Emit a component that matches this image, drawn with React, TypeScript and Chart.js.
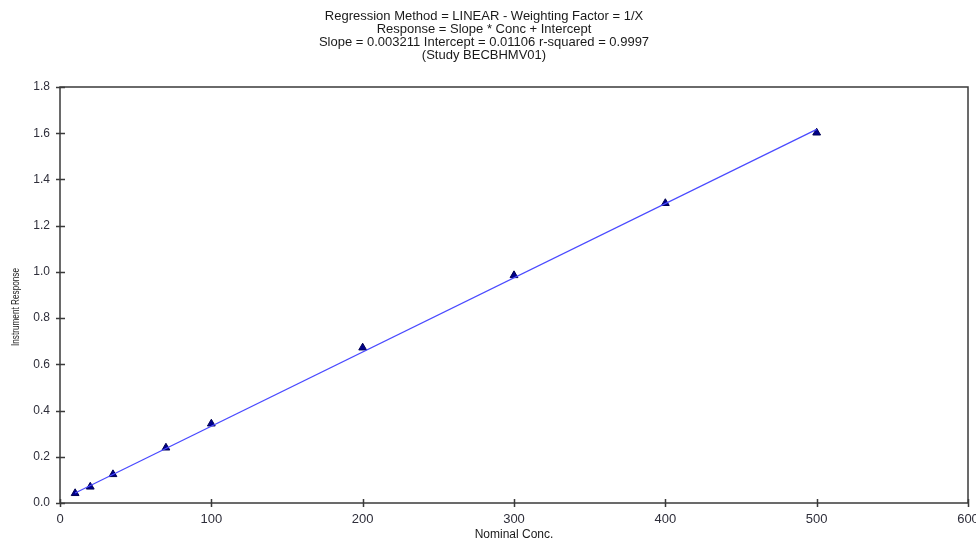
import React, { useEffect, useRef } from "react";
import { Chart, registerables } from "chart.js";

Chart.register(...registerables);

const titleLines = [
  "Regression Method = LINEAR - Weighting Factor = 1/X",
  "Response = Slope * Conc + Intercept",
  "Slope = 0.003211 Intercept = 0.01106 r-squared = 0.9997",
  "(Study BECBHMV01)",
];
const concX = [10, 20, 35, 70, 100, 200, 300, 400, 500];
const responseY = [0.042, 0.07, 0.124, 0.239, 0.343, 0.672, 0.985, 1.297, 1.602];
const fitX = [10, 500];
const fitY = [0.0432, 1.6166];
const xAxisTitle = "Nominal Conc.";
const yAxisTitle = "Instrument Response";

const FONT = "'Liberation Sans', Arial, sans-serif";
const AXIS_COLOR = "#3a3a3a";
const LABEL_COLOR = "#2e2e3a";

const framePlugin = {
  id: "frameTicks",
  afterDraw(chart: any) {
    const { ctx, chartArea, scales } = chart;
    ctx.save();
    ctx.strokeStyle = AXIS_COLOR;
    ctx.lineWidth = 1.5;
    ctx.strokeRect(chartArea.left, chartArea.top, chartArea.right - chartArea.left, chartArea.bottom - chartArea.top);
    ctx.beginPath();
    for (const t of scales.x.ticks) {
      const px = Math.round(scales.x.getPixelForValue(t.value)) + 0.5;
      ctx.moveTo(px, chartArea.bottom - 4);
      ctx.lineTo(px, chartArea.bottom + 4);
    }
    for (const t of scales.y.ticks) {
      const py = Math.round(scales.y.getPixelForValue(t.value)) + 0.5;
      ctx.moveTo(chartArea.left - 4, py);
      ctx.lineTo(chartArea.left + 5, py);
    }
    ctx.stroke();
    // condensed y-axis title
    ctx.fillStyle = "#1a1a1a";
    ctx.font = "10px " + FONT;
    ctx.textAlign = "center";
    ctx.textBaseline = "middle";
    ctx.translate(16, (chartArea.top + chartArea.bottom) / 2 + 12);
    ctx.rotate(-Math.PI / 2);
    ctx.scale(0.82, 1);
    ctx.fillText(yAxisTitle, 0, 0);
    ctx.restore();
  },
};

export default function App() {
  const ref = useRef<HTMLCanvasElement>(null);
  useEffect(() => {
    if (!ref.current) return;
    const chart = new Chart(ref.current, {
      type: "scatter",
      data: {
        datasets: [
          {
            label: "Fit",
            data: fitX.map((x, i) => ({ x, y: fitY[i] })),
            showLine: true,
            borderColor: "#4a4aff",
            borderWidth: 1.2,
            pointRadius: 0,
            fill: false,
          },
          {
            label: "Standards",
            data: concX.map((x, i) => ({ x, y: responseY[i] })),
            pointStyle: "triangle",
            pointRadius: 4.5,
            backgroundColor: "#00008b",
            borderColor: "#000050",
            borderWidth: 1,
          },
        ],
      },
      options: {
        animation: false,
        responsive: false,
        devicePixelRatio: 1,
        layout: { padding: { top: 0, left: 0, right: 8, bottom: 0 } },
        plugins: {
          legend: { display: false },
          tooltip: { enabled: false },
          title: {
            display: true,
            text: titleLines,
            color: "#1a1a1a",
            font: { family: FONT, size: 13, weight: "normal", lineHeight: 1 },
            padding: { top: 10, bottom: 25 },
          },
        },
        scales: {
          x: {
            type: "linear",
            min: 0,
            max: 600,
            grid: { display: false, drawTicks: false, tickLength: 0 },
            border: { display: false },
            ticks: {
              stepSize: 100,
              color: LABEL_COLOR,
              font: { family: FONT, size: 13 },
              padding: 9,
              maxRotation: 0,
            },
            title: {
              display: true,
              text: xAxisTitle,
              color: "#1a1a1a",
              font: { family: FONT, size: 12 },
              padding: { top: 0, bottom: -2 },
            },
            afterFit: (s: any) => {
              s.height = 37;
              s.paddingLeft = 0;
              s.paddingRight = 0;
            },
          },
          y: {
            type: "linear",
            min: 0,
            max: 1.8,
            grid: { display: false, drawTicks: false, tickLength: 0 },
            border: { display: false },
            ticks: {
              stepSize: 0.2,
              color: LABEL_COLOR,
              font: { family: FONT, size: 12 },
              padding: 10,
              callback: (v: any) => Number(v).toFixed(1),
            },
            title: { display: false },
            afterFit: (s: any) => {
              s.width = 60;
              s.paddingTop = 0;
              s.paddingBottom = 0;
            },
          },
        },
      },
      plugins: [framePlugin],
    });
    return () => chart.destroy();
  }, []);
  return (
    <div style={{ position: "fixed", left: 0, top: 0, width: 976, height: 540, background: "#fff", overflow: "hidden" }}>
      <canvas ref={ref} width={976} height={540} style={{ display: "block", width: 976, height: 540 }} />
    </div>
  );
}
